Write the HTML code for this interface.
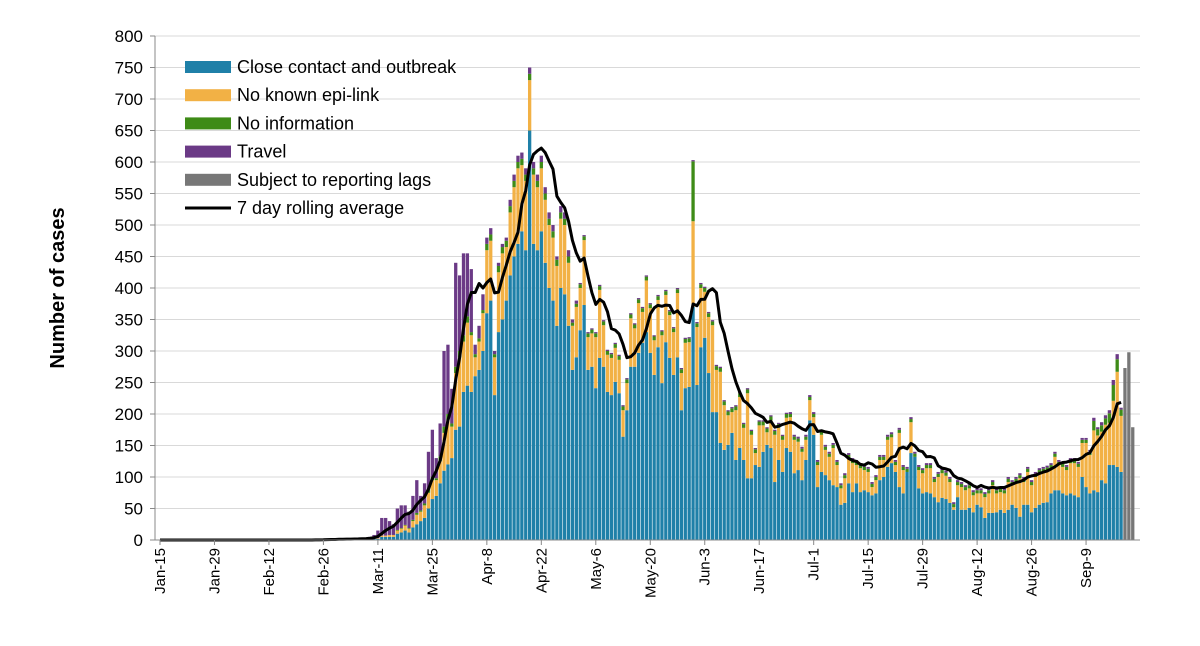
<!DOCTYPE html>
<html><head><meta charset="utf-8">
<style>
html,body{margin:0;padding:0;background:#fff;}
svg{display:block;font-family:"Liberation Sans",Arial,sans-serif;}
</style></head>
<body>
<svg id="chart" width="1200" height="646" viewBox="0 0 1200 646"></svg>
<script>
const tickLabels = ["Jan-15","Jan-29","Feb-12","Feb-26","Mar-11","Mar-25","Apr-8","Apr-22","May-6","May-20","Jun-3","Jun-17","Jul-1","Jul-15","Jul-29","Aug-12","Aug-26","Sep-9"];
const yTicks = [0,50,100,150,200,250,300,350,400,450,500,550,600,650,700,750,800];

const totals = [
0,0,0,0,0,0,0,0,0,0, 0,0,0,0,0,0,0,0,0,0, 0,0,0,0,0,0,0,0,0,0, 0,0,0,0,0,0,0,0,0,0,
1,0,1,2,1,1,2,1,2,1,3,2,3,4,5,8,
15,35,35,30,25,50,55,55,45,70,95,70,90,140,175,130,185,300,310,240,440,420,455,455,430,310,340,390,
480,495,300,440,470,480,540,580,610,615,590,750,600,580,610,560,520,500,450,530,520,460,350,380,
408,484,330,336,330,405,349,302,297,313,294,214,257,360,344,384,370,420,376,325,389,333,397,365,338,400,273,321,322,603,346,408,402,362,349,278,275,222,206,211,214,235,186,241,175,146,190,190,179,198,175,186,167,202,
203,167,164,148,167,230,203,127,175,151,140,154,127,90,106,138,130,127,122,119,116,92,103,135,135,167,171,127,178,119,116,195,140,119,114,122,122,100,108,114,110,
100,60,95,92,87,90,79,82,82,76,82,95,82,84,82,100,95,100,106,100,116,95,108,114,116,118,
122,140,127,124,119,130,130,124,162,162,143,194,179,187,198,206,254,295,210
];
const close = [
0,0,0,0,0,0,0,0,0,0, 0,0,0,0,0,0,0,0,0,0, 0,0,0,0,0,0,0,0,0,0, 0,0,0,0,0,0,0,0,0,0,
0,0,0,0,0,0,0,0,0,0,0,0,1,1,2,3,
2,5,5,5,5,10,12,15,12,20,25,30,35,50,65,70,90,110,120,130,175,180,235,245,235,260,270,300,
360,380,230,330,350,380,420,450,470,490,460,650,470,460,490,440,400,380,340,400,390,340,270,290,
333,373,270,275,241,289,275,235,230,251,233,164,206,275,275,297,313,330,297,262,306,249,314,289,262,290,206,241,243,370,246,306,321,265,203,203,154,143,151,170,127,146,127,98,98,119,116,140,151,146,92,127,108,146,
140,106,111,95,127,190,167,84,108,103,95,87,84,56,59,90,76,90,76,79,76,71,74,95,100,116,122,108,84,74,108,138,132,82,74,76,74,68,60,67,65,
59,48,68,48,48,51,44,56,52,35,43,43,44,48,43,48,56,51,37,56,56,44,51,56,59,60,
74,79,79,74,71,74,71,68,100,84,74,79,76,95,90,119,119,116,108
];
const noInfo = [
0,0,0,0,0,0,0,0,0,0, 0,0,0,0,0,0,0,0,0,0, 0,0,0,0,0,0,0,0,0,0, 0,0,0,0,0,0,0,0,0,0,
0,0,0,0,0,0,0,0,0,0,0,0,0,0,0,0,
0,0,0,0,0,1,1,1,1,2,3,2,3,5,5,3,8,10,10,5,10,10,10,10,5,5,5,5,
10,10,5,10,10,10,10,10,10,10,10,10,10,10,10,10,10,10,10,10,10,10,5,5,
6,6,6,6,6,6,6,6,6,6,6,6,6,6,6,6,6,6,6,6,6,6,6,6,6,6,6,6,6,95,6,6,6,6,6,6,6,6,6,6,6,6,6,6,6,6,6,6,6,6,6,6,6,6,
5,5,5,5,5,5,5,5,5,5,5,5,5,5,5,5,5,5,5,5,5,5,5,5,5,5,5,5,5,5,5,5,5,5,5,5,5,5,5,5,5,
5,5,5,5,5,5,5,5,5,5,5,5,5,5,5,5,5,5,5,5,5,5,5,5,5,5,
5,5,5,5,5,5,5,5,5,5,5,15,10,10,10,15,25,20,10
];
const travel = [
0,0,0,0,0,0,0,0,0,0, 0,0,0,0,0,0,0,0,0,0, 0,0,0,0,0,0,0,0,0,0, 0,0,0,0,0,0,0,0,0,0,
1,0,1,2,1,1,2,1,2,1,3,2,2,3,3,5,
12,28,28,22,17,34,36,31,26,38,52,23,32,60,75,32,52,120,110,55,165,120,130,100,100,15,20,25,
10,10,5,5,5,5,10,10,10,10,10,10,10,10,10,10,10,10,5,10,10,10,5,5,
2,2,2,2,2,2,2,2,2,2,2,2,2,2,2,2,2,2,2,2,2,2,2,2,2,2,2,2,2,2,2,2,2,2,2,2,2,2,2,2,2,2,2,2,2,2,2,2,2,2,2,2,2,2,
3,3,3,3,3,3,3,3,3,3,3,3,3,3,3,3,3,3,3,3,3,3,3,3,3,3,3,3,3,3,3,3,3,3,3,3,3,3,3,3,3,
3,3,3,3,3,3,3,3,3,3,3,3,3,3,3,3,3,3,3,3,3,3,3,3,3,3,
3,3,3,3,3,3,3,3,3,3,3,5,3,5,5,5,8,8,3
];
const lagDays = [248,249,250];
const lagValues = [273,298,179];

const NS="http://www.w3.org/2000/svg";
const svg=document.getElementById('chart');
function mk(tag,attrs,parent){const e=document.createElementNS(NS,tag);for(const k in attrs)e.setAttribute(k,attrs[k]);(parent||svg).appendChild(e);return e;}
const X0=160, PITCH=3.891, Y0=540, YS=0.63;
const xScale=d=>X0+d*PITCH;
const yScale=v=>Y0-v*YS;
const BW=3.3;

// gridlines & y labels
const grid=mk('g',{});


yTicks.forEach(v=>{
  if(v>0){const l=mk('line',{x1:155,x2:1140,y1:yScale(v),y2:yScale(v),stroke:'#d9d9d9','stroke-width':1},grid);
  
  }
  const t=mk('text',{x:143,y:yScale(v)+6,'text-anchor':'end','font-size':17,fill:'#000'});
  t.textContent=v;
  
  
  const tk=mk('line',{x1:150,x2:155,y1:yScale(v),y2:yScale(v),stroke:'#888'});
  
  
});

// bars
const series=[{arr:'close',c:'#1f80a8'},{arr:'noLink',c:'#f2b145'},{arr:'noInfo',c:'#3e8b17'},{arr:'travel',c:'#6b3a86'}];
const bars=mk('g',{});


for(let d=0;d<totals.length;d++){
  const vals=[close[d], Math.max(0,totals[d]-close[d]-noInfo[d]-travel[d]), noInfo[d], travel[d]];
  let base=0;
  vals.forEach((v,i)=>{
    if(v<=0)return;
    const r=mk('rect',{x:xScale(d)-BW/2,y:yScale(base+v),width:BW,height:v*YS,fill:series[i].c},bars);
    
    
    base+=v;
  });
}
lagDays.forEach((d,i)=>{
  const r=mk('rect',{x:xScale(d)-BW/2,y:yScale(lagValues[i]),width:BW,height:lagValues[i]*YS,fill:'#777'},bars);
  
  
});

// rolling average
let pts=[];
for(let d=0;d<totals.length;d++){
  let s=0,n=0;for(let k=Math.max(0,d-6);k<=d;k++){s+=totals[k];n++;}
  pts.push(xScale(d).toFixed(1)+','+yScale(s/7).toFixed(1));
}
const line=mk('polyline',{points:pts.join(' '),fill:'none',stroke:'#000','stroke-width':3,'stroke-linejoin':'round'});



// axes
const ax=mk('line',{x1:155,x2:155,y1:36,y2:540,stroke:'#888'});


const xa=mk('line',{x1:155,x2:1140,y1:540,y2:540,stroke:'#888'});


tickLabels.forEach((lab,i)=>{
  const x=xScale(i*14);
  const tk=mk('line',{x1:x,x2:x,y1:540,y2:545,stroke:'#888'});
  
  
  const t=mk('text',{transform:`translate(${x+5},548) rotate(-90)`,'text-anchor':'end','font-size':15,fill:'#000'});
  t.textContent=lab;
  
  
});
const yt=mk('text',{transform:'translate(64,288) rotate(-90)','text-anchor':'middle','font-size':20,'font-weight':'bold',fill:'#000'});
yt.textContent='Number of cases';



// legend
const legendNames=['Close contact and outbreak','No known epi-link','No information','Travel','Subject to reporting lags','7 day rolling average'];
const legendColors=['#1f80a8','#f2b145','#3e8b17','#6b3a86','#777','#000'];
const lg=mk('g',{});


legendNames.forEach((n,i)=>{
  const cy=67+i*28.2;
  if(i<5){const r=mk('rect',{x:185,y:cy-6,width:46,height:12,fill:legendColors[i]},lg);
    
    }
  else{const l=mk('line',{x1:185,x2:231,y1:cy,y2:cy,stroke:'#000','stroke-width':3},lg);
    
    }
  const t=mk('text',{x:237,y:cy+6,'font-size':18,fill:'#000'},lg);
  t.textContent=n;
  
  
});
</script>
</body></html>
